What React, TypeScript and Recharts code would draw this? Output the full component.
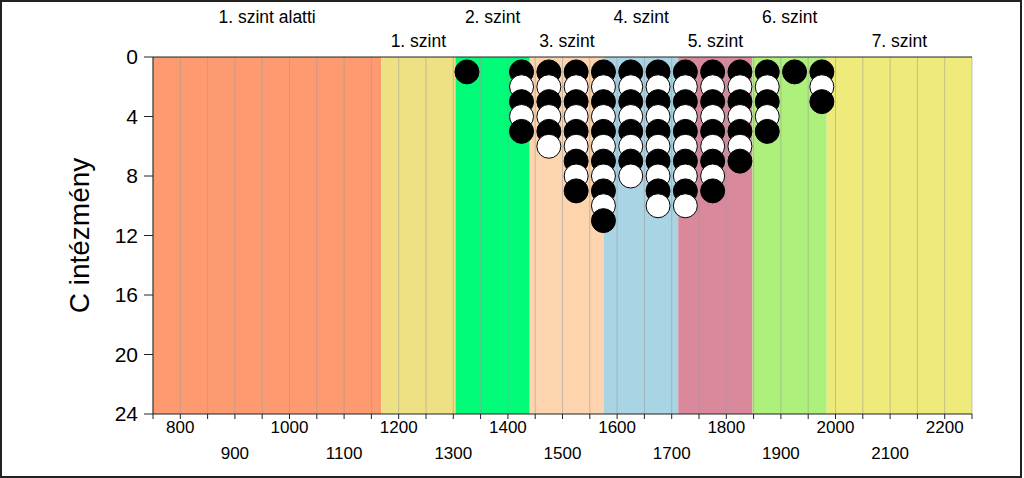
import {
  ScatterChart,
  Scatter,
  XAxis,
  YAxis,
  CartesianGrid,
  ReferenceArea,
} from "recharts";

// competence levels: edges on the score scale, names, fills
const bandEdges = [750, 1168, 1304, 1440, 1576, 1712, 1848, 1984, 2250];
const bandNames = [
  "1. szint alatti",
  "1. szint",
  "2. szint",
  "3. szint",
  "4. szint",
  "5. szint",
  "6. szint",
  "7. szint",
];
const bandColors = [
  "#FD9A70", // below 1
  "#EDE183", // 1
  "#00FC78", // 2
  "#FDD4AE", // 3
  "#A8D4E3", // 4
  "#DA899D", // 5
  "#ADF07B", // 6
  "#EEEB7A", // 7
];

// histogram of students: bin centre -> number of stacked dots
const binCenters = [1325, 1425, 1475, 1525, 1575, 1625, 1675, 1725, 1775, 1825, 1875, 1925, 1975];
const binCounts = [1, 5, 6, 9, 11, 8, 10, 10, 9, 7, 5, 1, 3];

const xTicks = [
  750, 800, 850, 900, 950, 1000, 1050, 1100, 1150, 1200, 1250, 1300, 1350, 1400, 1450, 1500,
  1550, 1600, 1650, 1700, 1750, 1800, 1850, 1900, 1950, 2000, 2050, 2100, 2150, 2200, 2250,
];
const yTicks = [0, 4, 8, 12, 16, 20, 24];

const FONT = "'Liberation Sans', Arial, sans-serif";
const AXIS = "#222";

// one point per student, stacked from the top of the (reversed) y axis
const dots: { x: number; y: number }[] = [];
binCenters.forEach((x, i) => {
  for (let k = 1; k <= binCounts[i]; k++) dots.push({ x, y: k });
});

const Dot = (props: any) => {
  const { cx, cy, payload } = props;
  const dark = payload.y % 2 === 1;
  return <circle cx={cx} cy={cy} r={12} fill={dark ? "#000" : "#fff"} stroke="#000" strokeWidth={1} />;
};

const BottomTick = (props: any) => {
  const { x, y, payload } = props;
  const v = payload.value;
  if (v % 100 !== 0) return <g />;
  const row = (v / 100) % 2 === 0 ? 0 : 1;
  return (
    <text x={x} y={y + (row === 0 ? 12 : 38)} textAnchor="middle" fontSize={17} fill="#000" fontFamily={FONT}>
      {v}
    </text>
  );
};

const bandLabel = (name: string, row: number) => (props: any) => {
  const vb = props.viewBox;
  return (
    <text
      x={vb.x + vb.width / 2}
      y={vb.y - (row === 0 ? 34 : 10)}
      textAnchor="middle"
      fontSize={17.5}
      fill="#000"
      fontFamily={FONT}
    >
      {name}
    </text>
  );
};

const yLabel = (props: any) => {
  const vb = props.viewBox;
  const cx = 79;
  const cy = vb.y + vb.height / 2;
  return (
    <text
      x={cx}
      y={cy}
      transform={`rotate(-90, ${cx}, ${cy})`}
      textAnchor="middle"
      dominantBaseline="central"
      fontSize={28}
      fill="#000"
      fontFamily={FONT}
    >
      C intézmény
    </text>
  );
};

export default function App() {
  return (
    <div style={{ position: "absolute", left: 0, top: 0, width: 1024, height: 478, background: "#fff", fontFamily: FONT }}>
      <ScatterChart width={1024} height={478} margin={{ top: 0, right: 52, bottom: 0, left: 0 }}>
        <XAxis
          xAxisId="bottom"
          dataKey="x"
          type="number"
          domain={[750, 2250]}
          ticks={xTicks}
          interval={0}
          height={64}
          tickSize={5}
          tickMargin={2}
          stroke={AXIS}
          tick={BottomTick}
        />
        <XAxis
          xAxisId="top"
          orientation="top"
          type="number"
          domain={[750, 2250]}
          ticks={xTicks}
          interval={0}
          height={57}
          tickSize={5}
          stroke={AXIS}
          tick={() => <g />}
        />
        <YAxis
          yAxisId="left"
          dataKey="y"
          type="number"
          domain={[0, 24]}
          reversed
          ticks={yTicks}
          interval={0}
          width={153}
          tickSize={9}
          tickMargin={6}
          stroke={AXIS}
          tick={{ fontSize: 21, fill: "#000", fontFamily: FONT }}
          label={{ content: yLabel }}
        />
        {bandNames.map((name, i) => (
          <ReferenceArea
            key={name}
            xAxisId="bottom"
            yAxisId="left"
            x1={bandEdges[i]}
            x2={bandEdges[i + 1]}
            y1={0}
            y2={24}
            fill={bandColors[i]}
            fillOpacity={1}
            stroke="none"
            label={{ content: bandLabel(name, i % 2 === 0 ? 0 : 1) }}
          />
        ))}
        <CartesianGrid
          xAxisId="bottom"
          yAxisId="left"
          horizontal={false}
          stroke="#9a9a9a"
          strokeOpacity={0.55}
          {...({ zIndex: 150 } as any)}
        />
        <Scatter
          data={dots}
          xAxisId="bottom"
          yAxisId="left"
          shape={Dot}
          isAnimationActive={false}
        />
      </ScatterChart>
      <div
        style={{
          position: "absolute",
          left: 0,
          top: 0,
          width: 1022,
          height: 478,
          boxSizing: "border-box",
          border: "2px solid #222",
          pointerEvents: "none",
        }}
      />
    </div>
  );
}
